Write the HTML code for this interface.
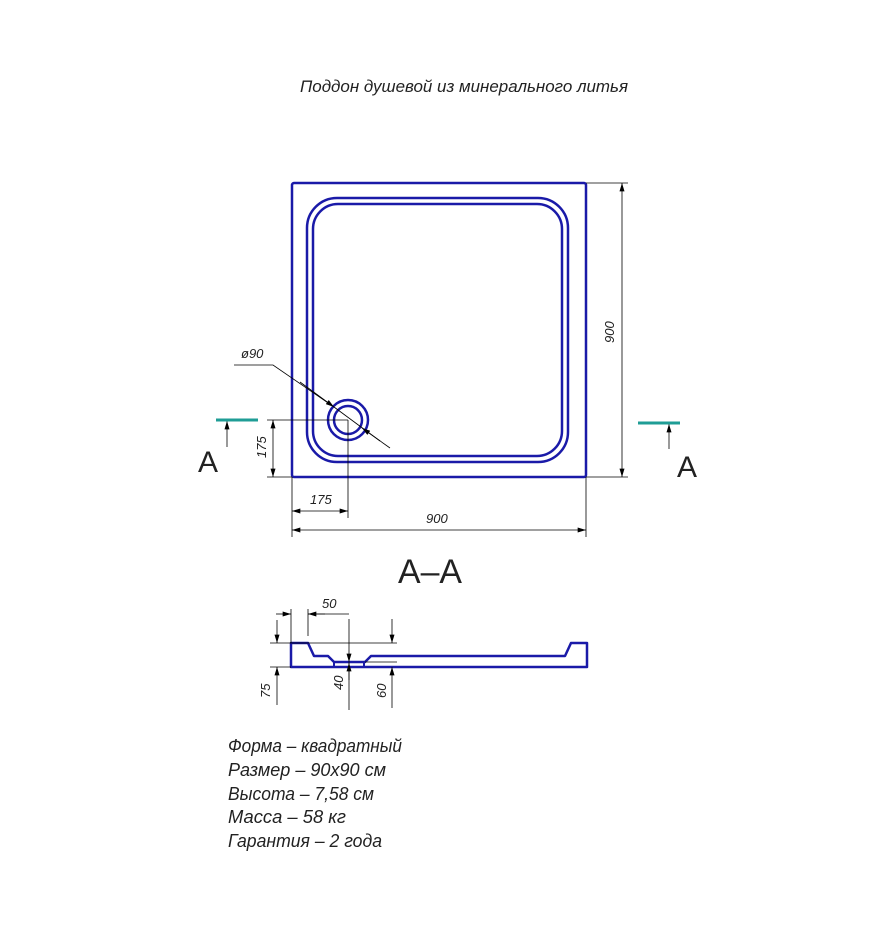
<!DOCTYPE html>
<html><head><meta charset="utf-8"><style>
body{margin:0;background:#fff}
svg text{font-family:"Liberation Sans","DejaVu Sans",sans-serif;font-style:italic;fill:#222}
</style></head><body>
<svg width="871" height="929" viewBox="0 0 871 929" xmlns="http://www.w3.org/2000/svg">
<defs>
<marker id="ar" viewBox="0 0 10 6" refX="10" refY="3" markerWidth="14" markerHeight="5" orient="auto-start-reverse" markerUnits="userSpaceOnUse"><path d="M0,0L10,3L0,6z" fill="#000"/></marker>
</defs>
<text x="300" y="92" font-size="17" textLength="328" lengthAdjust="spacingAndGlyphs">Поддон душевой из минерального литья</text>
<g fill="none" stroke="#1a1aa8" stroke-width="2.5">
<rect x="292" y="183" width="294" height="294" rx="2"/>
<rect x="307" y="198" width="261" height="264" rx="30"/>
<rect x="313" y="204" width="249" height="252" rx="25"/>
<circle cx="348" cy="420" r="20"/>
<circle cx="348" cy="420" r="14"/>
</g>
<g stroke="#000" stroke-width="0.8" fill="none">
<line x1="586" y1="183" x2="628" y2="183"/>
<line x1="586" y1="477" x2="628" y2="477"/>
<line x1="622" y1="183" x2="622" y2="477" marker-start="url(#ar)" marker-end="url(#ar)"/>
<line x1="292" y1="477" x2="292" y2="537"/>
<line x1="586" y1="477" x2="586" y2="537"/>
<line x1="348" y1="420" x2="348" y2="518"/>
<line x1="292" y1="530" x2="586" y2="530" marker-start="url(#ar)" marker-end="url(#ar)"/>
<line x1="292" y1="511" x2="348" y2="511" marker-start="url(#ar)" marker-end="url(#ar)"/>
<line x1="267" y1="420" x2="348" y2="420"/>
<line x1="267" y1="477" x2="292" y2="477"/>
<line x1="273" y1="420" x2="273" y2="477" marker-start="url(#ar)" marker-end="url(#ar)"/>
<polyline points="234,365 273,365 334,407"/>
<line x1="334" y1="407" x2="380" y2="441"/>
<line x1="300" y1="382" x2="334" y2="407" marker-end="url(#ar)"/>
<line x1="390" y1="448" x2="362" y2="428" marker-end="url(#ar)"/>
<line x1="227" y1="447" x2="227" y2="421" marker-end="url(#ar)"/>
<line x1="669" y1="449" x2="669" y2="424" marker-end="url(#ar)"/>
</g>
<line x1="216" y1="420" x2="258" y2="420" stroke="#1f9d96" stroke-width="3"/>
<line x1="638" y1="423" x2="680" y2="423" stroke="#1f9d96" stroke-width="3"/>
<text x="198" y="472" font-size="30" style="font-style:normal">A</text>
<text x="677" y="477" font-size="30" style="font-style:normal">A</text>
<text x="241" y="358" font-size="13">ø90</text>
<text x="310" y="504" font-size="13">175</text>
<text x="426" y="523" font-size="13">900</text>
<text transform="translate(266,458) rotate(-90)" font-size="13">175</text>
<text transform="translate(614,343) rotate(-90)" font-size="13">900</text>
<text x="398" y="583" font-size="34" style="font-style:normal" textLength="64" lengthAdjust="spacingAndGlyphs">A–A</text>
<path d="M291,643 H308 L314,656 H328 L334,662 H365 L371,656 H565 L571,643 H587 V667 H291 Z" fill="none" stroke="#1a1aa8" stroke-width="2.5" stroke-linejoin="round"/>
<line x1="334" y1="662" x2="334" y2="667" stroke="#1a1aa8" stroke-width="2"/>
<line x1="364" y1="662" x2="364" y2="667" stroke="#1a1aa8" stroke-width="2"/>
<g stroke="#000" stroke-width="0.8" fill="none">
<line x1="291" y1="609" x2="291" y2="643"/>
<line x1="308" y1="609" x2="308" y2="636"/>
<line x1="276" y1="614" x2="291" y2="614" marker-end="url(#ar)"/>
<line x1="325" y1="614" x2="308" y2="614" marker-end="url(#ar)"/>
<line x1="308" y1="614" x2="349" y2="614"/>
<line x1="270" y1="643" x2="397" y2="643"/>
<line x1="270" y1="667" x2="291" y2="667"/>
<line x1="277" y1="620" x2="277" y2="643" marker-end="url(#ar)"/>
<line x1="277" y1="705" x2="277" y2="667" marker-end="url(#ar)"/>
<line x1="349" y1="619" x2="349" y2="662" marker-end="url(#ar)"/>
<line x1="349" y1="710" x2="349" y2="662"/>
<line x1="349" y1="680" x2="349" y2="663" marker-end="url(#ar)"/>
<line x1="365" y1="662" x2="397" y2="662"/>
<line x1="392" y1="619" x2="392" y2="643" marker-end="url(#ar)"/>
<line x1="392" y1="708" x2="392" y2="667" marker-end="url(#ar)"/>
</g>
<text x="322" y="608" font-size="13">50</text>
<text transform="translate(270,698) rotate(-90)" font-size="13">75</text>
<text transform="translate(343,690) rotate(-90)" font-size="13">40</text>
<text transform="translate(386,698) rotate(-90)" font-size="13">60</text>
<g font-size="18">
<text x="228" y="752" textLength="174" lengthAdjust="spacingAndGlyphs">Форма – квадратный</text>
<text x="228" y="776" textLength="158" lengthAdjust="spacingAndGlyphs">Размер – 90х90 см</text>
<text x="228" y="800" textLength="146" lengthAdjust="spacingAndGlyphs">Высота – 7,58 см</text>
<text x="228" y="823" textLength="118" lengthAdjust="spacingAndGlyphs">Масса – 58 кг</text>
<text x="228" y="847" textLength="154" lengthAdjust="spacingAndGlyphs">Гарантия – 2 года</text>
</g>
</svg>
</body></html>
